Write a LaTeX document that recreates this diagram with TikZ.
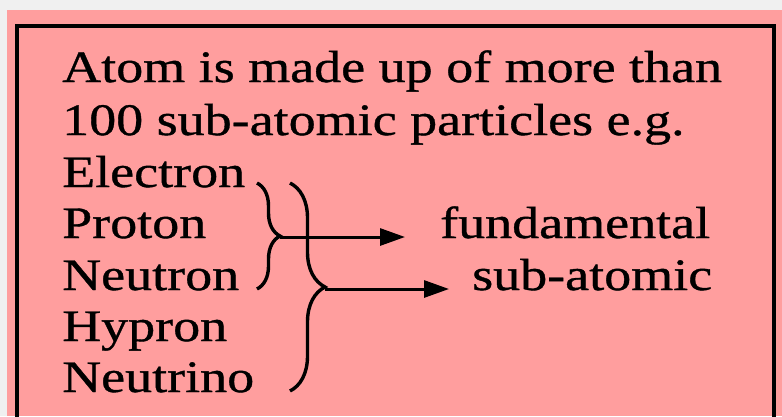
\documentclass[tikz,border=0pt]{standalone}
\usepackage{fontspec}
\setmainfont[FakeStretch=1.2, FakeBold=0.8]{Liberation Serif}
\usetikzlibrary{arrows.meta, positioning, decorations.pathreplacing}
\definecolor{sheetpink}{RGB}{255,158,158}
\definecolor{pagegray}{RGB}{240,240,240}

\begin{document}
\begin{tikzpicture}[
    x=1pt, y=-1pt,
    txt/.style={anchor=base west, inner sep=0pt,
                font=\fontsize{45}{52}\selectfont},
    curly/.style={decorate, line width=3.4pt,
                  decoration={brace, amplitude=#1}},
    >={Triangle[length=25pt, width=17pt]}
  ]
  \useasboundingbox (0,0) rectangle (782,416);
  \fill[pagegray] (0,0) rectangle (782,416);
  \fill[sheetpink] (7,10) rectangle (782,416);
  \draw[line width=3.4pt] (17,420) -- (17,26) -- (774,26) -- (774,420);

  \node[txt] (line1) at (62,82) {Atom is made up of more than};
  \node[txt] (line2) at (62,135) {100 sub-atomic particles e.g.};
  \node[txt] (electron) at (62,187) {Electron};
  \node[txt] (proton) at (62,238) {Proton};
  \node[txt] (neutron) at (62,290) {Neutron};
  \node[txt] (hypron) at (62,341) {Hypron};
  \node[txt] (neutrino) at (62,392) {Neutrino};
  \node[txt] (fund) at (440,238) {fundamental};
  \node[txt] (subat) at (472,290) {sub-atomic};

  % braces
  \coordinate (b1top) at (257,183);
  \coordinate (b1bot) at (257,289);
  \coordinate (b2top) at (290,183);
  \coordinate (b2bot) at (290,391);
  \draw[curly=23pt] (b1top) -- (b1bot);
  \draw[curly=35pt] (b2top) -- (b2bot);
  \coordinate (tip1) at (280,237);
  \coordinate (tip2) at (325,289);
  \coordinate (end1) at (405,237);
  \coordinate (end2) at (449,289);

  \draw[->, line width=3pt] (tip1) -- (end1);
  \draw[->, line width=3pt] (tip2) -- (end2);
\end{tikzpicture}
\end{document}
